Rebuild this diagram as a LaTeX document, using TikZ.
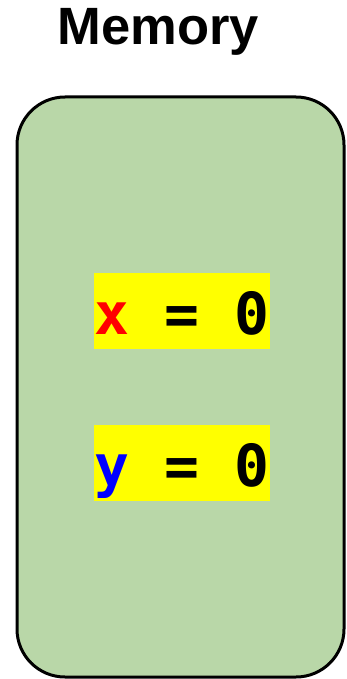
\documentclass[tikz,border=0pt]{standalone}
\usepackage{fontspec}
\usepackage{tikz}
\usetikzlibrary{positioning}
\usepackage{xcolor}
\setmainfont{Liberation Sans}
\setmonofont{DejaVu Sans Mono}
\definecolor{memgreen}{HTML}{B9D7A8}
\definecolor{memyellow}{HTML}{FFFF00}

\begin{document}
\begin{tikzpicture}[x=1pt, y=-1pt,
  memvar/.style={fill=memyellow, inner sep=0pt, minimum width=176pt, minimum height=76pt,
    text height=46pt, text depth=0pt, font=\ttfamily\bfseries\fontsize{58}{58}\selectfont}]
\useasboundingbox (0,0) rectangle (346,679);
% Titolo
\node[anchor=base, font=\bfseries\fontsize{52.5}{52.5}\selectfont] (title) at (158.5,45) {Memory};
% Blocco memoria
\node[draw, line width=3pt, rounded corners=48pt, fill=memgreen,
  minimum width=327pt, minimum height=580pt] (mem) at (180.5,387) {};
% Variabili
\node[memvar] (varx) at (182,311) {\textcolor{red}{x} = 0};
\node[memvar, below=76pt of varx] (vary) {\textcolor{blue}{y} = 0};
\end{tikzpicture}
\end{document}
